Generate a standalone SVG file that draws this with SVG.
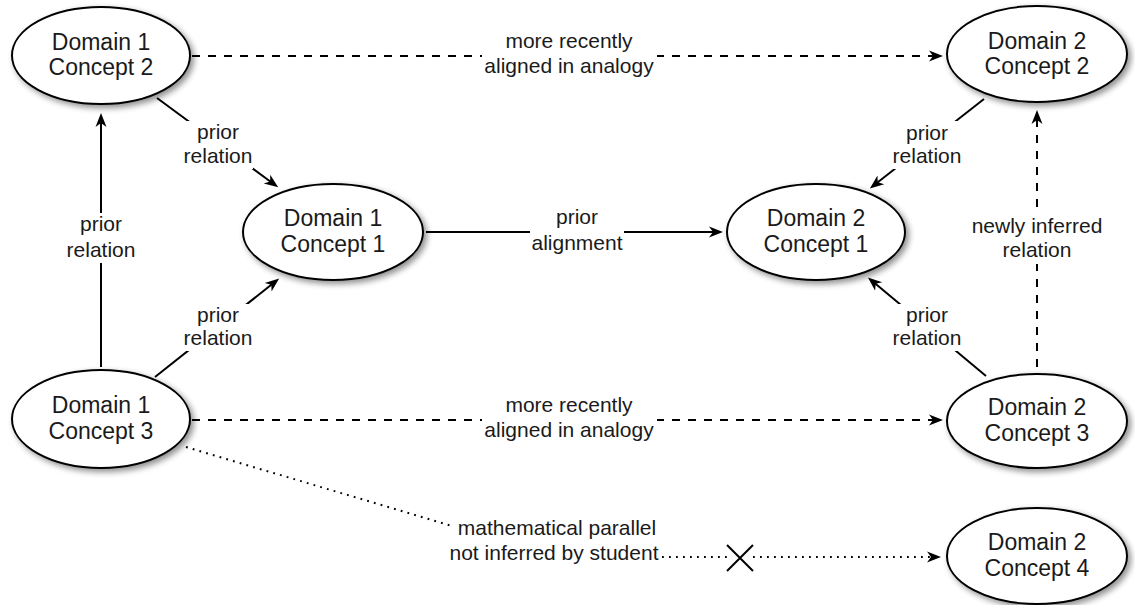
<svg xmlns="http://www.w3.org/2000/svg" width="1135" height="605" viewBox="0 0 1135 605">
<style>
.node ellipse{fill:#fff;stroke:#000;stroke-width:2;filter:url(#sh)}
.node text{font-family:"Liberation Sans",Arial,sans-serif;font-size:23px;text-anchor:middle;fill:#1a1a1a}
.lbl{font-family:"Liberation Sans",Arial,sans-serif;font-size:21px;text-anchor:middle;fill:#1a1a1a}
.bg{fill:#fff;stroke:none}
.c{fill:none;stroke:#000;stroke-width:2}
.solid{marker-end:url(#arr)}
.dash{stroke-dasharray:8 8;marker-end:url(#arr)}
.dot{stroke-dasharray:1.8 5.2}
</style>
<defs>
<filter id="sh" x="-20%" y="-20%" width="150%" height="160%">
<feGaussianBlur in="SourceAlpha" stdDeviation="3"/>
<feOffset dx="3" dy="3" result="b"/>
<feComponentTransfer><feFuncA type="linear" slope="0.45"/></feComponentTransfer>
<feMerge><feMergeNode/><feMergeNode in="SourceGraphic"/></feMerge>
</filter>
<marker id="arr" markerWidth="16" markerHeight="14" refX="10" refY="7" orient="auto" markerUnits="userSpaceOnUse">
<path d="M0,1.5 L14,7 L0,12.5 L4,7 z" fill="#000"/>
</marker>
</defs>

<g id="connectors">
<line class="c dash" x1="192" y1="56" x2="939" y2="56"/>
<line class="c dash" x1="192" y1="420" x2="939" y2="420"/>
<line class="c solid" x1="157" y1="98" x2="275" y2="185"/>
<line class="c solid" x1="155" y1="377" x2="276" y2="281"/>
<line class="c solid" x1="101" y1="367" x2="101" y2="117"/>
<line class="c solid" x1="426" y1="232" x2="719" y2="232"/>
<line class="c solid" x1="984" y1="99" x2="873" y2="186"/>
<line class="c solid" x1="986" y1="376" x2="871" y2="280"/>
<line class="c dash" x1="1037" y1="367" x2="1037" y2="114"/>
<line class="c dot" x1="186" y1="447" x2="452" y2="526"/>
<line class="c dot" x1="662" y1="557" x2="727" y2="557"/>
<line class="c dot" x1="753" y1="557" x2="937" y2="557" style="marker-end:url(#arr)"/>
<path class="c" d="M727,545 L753,571 M753,545 L727,571"/>

<rect class="bg" x="482" y="32" width="175" height="48"/>
<text class="lbl" x="569" y="48">more recently</text>
<text class="lbl" x="569" y="73">aligned in analogy</text>

<rect class="bg" x="482" y="396" width="175" height="48"/>
<text class="lbl" x="569" y="412">more recently</text>
<text class="lbl" x="569" y="437">aligned in analogy</text>

<rect class="bg" x="183" y="121" width="70" height="48"/>
<text class="lbl" x="218" y="139">prior</text>
<text class="lbl" x="218" y="163">relation</text>

<rect class="bg" x="183" y="304" width="70" height="47"/>
<text class="lbl" x="218" y="322">prior</text>
<text class="lbl" x="218" y="345">relation</text>

<rect class="bg" x="65" y="213" width="72" height="50"/>
<text class="lbl" x="101" y="231">prior</text>
<text class="lbl" x="101" y="257">relation</text>

<rect class="bg" x="530" y="206" width="94" height="50"/>
<text class="lbl" x="577" y="224">prior</text>
<text class="lbl" x="577" y="250">alignment</text>

<rect class="bg" x="892" y="121" width="70" height="48"/>
<text class="lbl" x="927" y="140">prior</text>
<text class="lbl" x="927" y="163">relation</text>

<rect class="bg" x="892" y="304" width="70" height="47"/>
<text class="lbl" x="927" y="322">prior</text>
<text class="lbl" x="927" y="345">relation</text>

<rect class="bg" x="970" y="214" width="134" height="50"/>
<text class="lbl" x="1037" y="233">newly inferred</text>
<text class="lbl" x="1037" y="257">relation</text>

<text class="lbl" x="557" y="535">mathematical parallel</text>
<text class="lbl" x="554" y="560">not inferred by student</text>
</g>

<g id="d1c2" class="node"><ellipse cx="101" cy="55.5" rx="89" ry="48.5"/><text x="101" y="49.5">Domain 1</text><text x="101" y="75">Concept 2</text></g>
<g id="d2c2" class="node"><ellipse cx="1037" cy="54" rx="90" ry="48"/><text x="1037" y="48.5">Domain 2</text><text x="1037" y="74">Concept 2</text></g>
<g id="d1c1" class="node"><ellipse cx="333" cy="232" rx="90" ry="48"/><text x="333" y="226">Domain 1</text><text x="333" y="251.5">Concept 1</text></g>
<g id="d2c1" class="node"><ellipse cx="816" cy="232" rx="89" ry="48"/><text x="816" y="226">Domain 2</text><text x="816" y="251.5">Concept 1</text></g>
<g id="d1c3" class="node"><ellipse cx="101" cy="419" rx="89" ry="49"/><text x="101" y="413">Domain 1</text><text x="101" y="438.5">Concept 3</text></g>
<g id="d2c3" class="node"><ellipse cx="1037" cy="421" rx="90" ry="47"/><text x="1037" y="415">Domain 2</text><text x="1037" y="440.5">Concept 3</text></g>
<g id="d2c4" class="node"><ellipse cx="1037" cy="556" rx="90" ry="48"/><text x="1037" y="550">Domain 2</text><text x="1037" y="575.5">Concept 4</text></g>
</svg>
